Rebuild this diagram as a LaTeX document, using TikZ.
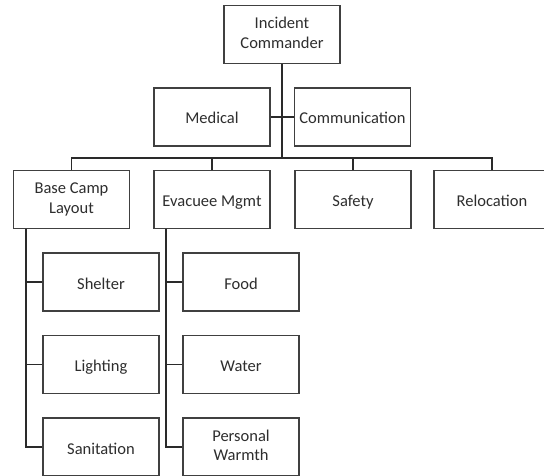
\documentclass[tikz,border=0pt]{standalone}
\usepackage{fontspec}
\setmainfont{Carlito}
\definecolor{boxline}{HTML}{404040}
\definecolor{txt}{HTML}{2e2e2e}
\definecolor{conn}{HTML}{2a2a2a}
\newcommand\boxstrut{\rule[-3pt]{0pt}{20pt}}
\newcommand\firsttall{\rule[-3pt]{0pt}{24pt}}
\newcommand\lastdepth{\rule[-3pt]{0pt}{3pt}}
\begin{document}
\begin{tikzpicture}[x=1pt,y=-1pt,
  box/.style={draw=boxline, line width=1.3pt, fill=white, minimum width=116pt, minimum height=58pt,
    align=center, inner sep=2pt, text=txt, font=\fontsize{16.5}{19.5}\selectfont,
    execute at begin node=\boxstrut, execute at end node=\boxstrut},
  twoline/.style={execute at begin node=\firsttall, execute at end node=\lastdepth},
  conn/.style={draw=conn, line width=1.2pt}]
\useasboundingbox (0,0) rectangle (544,476);
\clip (0,0) rectangle (544,476);
\coordinate (bus) at (282,158);
\coordinate (bcl) at (26,229);
\coordinate (evl) at (166,229);
\node[box,twoline] (ic) at (282,34.5) {Incident\\Commander};
\node[box] (med) at (212,117) {Medical};
\node[box] (com) at (352.5,117) {Communication};
\node[box,twoline] (bc) at (71.5,199.5) {Base Camp\\Layout};
\node[box] (ev) at (212,199.5) {Evacuee Mgmt};
\node[box] (saf) at (353,199.5) {Safety};
\node[box] (rel) at (492,199.5) {Relocation};
\node[box] (she) at (101,282) {Shelter};
\node[box] (lig) at (101,364.5) {Lighting};
\node[box] (san) at (101,447) {Sanitation};
\node[box] (foo) at (241,282) {Food};
\node[box] (wat) at (241,364.5) {Water};
\node[box,twoline] (pw) at (241,447) {Personal\\Warmth};
\draw[conn] (ic.south) -- (bus);
\draw[conn] (med.east) -- (com.west);
\draw[conn] (bc.north) |- (bus) -| (rel.north);
\draw[conn] (ev.north) -- (ev.north |- bus);
\draw[conn] (saf.north) -- (saf.north |- bus);
\draw[conn] (bcl) |- (she.west);
\draw[conn] (bcl) |- (lig.west);
\draw[conn] (bcl) |- (san.west);
\draw[conn] (evl) |- (foo.west);
\draw[conn] (evl) |- (wat.west);
\draw[conn] (evl) |- (pw.west);
\end{tikzpicture}
\end{document}
